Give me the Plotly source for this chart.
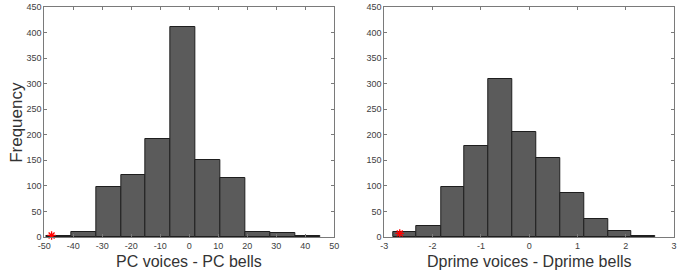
import plotly.graph_objects as go

# Left histogram: PC voices - PC bells
pc_edges = [-49.4, -40.8, -32.2, -23.6, -15.1, -6.6, 2.0, 10.6, 19.2, 28.0, 36.6, 45.2]
pc_counts = [2, 10, 97, 122, 191, 410, 151, 116, 10, 7, 2]
pc_star = [-47.5, 3]

# Right histogram: Dprime voices - Dprime bells
dp_edges = [-2.82, -2.33, -1.83, -1.34, -0.84, -0.35, 0.15, 0.64, 1.13, 1.63, 2.12, 2.62]
dp_counts = [9, 22, 97, 179, 310, 206, 155, 87, 35, 11, 2]
dp_star = [-2.68, 7]

pc_ticks = [-50, -40, -30, -20, -10, 0, 10, 20, 30, 40, 50]
dp_ticks = [-3, -2, -1, 0, 1, 2, 3]
y_ticks = [0, 50, 100, 150, 200, 250, 300, 350, 400, 450]

BAR = "#5b5b5b"
EDGE = "#1e1e1e"
AX = "#7a7a7a"
TXT = "#404040"
FONT = "Liberation Sans, Arial, sans-serif"

fig = go.Figure()

def add_hist(edges, counts, xa, ya):
    lefts = edges[:-1]
    widths = [b - a for a, b in zip(edges[:-1], edges[1:])]
    fig.add_trace(go.Bar(x=lefts, y=counts, width=widths, offset=0,
                         marker=dict(color=BAR, line=dict(color=EDGE, width=1)),
                         xaxis=xa, yaxis=ya, showlegend=False))

add_hist(pc_edges, pc_counts, "x", "y")
add_hist(dp_edges, dp_counts, "x2", "y2")

for star, xa, ya in [(pc_star, "x", "y"), (dp_star, "x2", "y2")]:
    fig.add_trace(go.Scatter(x=[star[0]], y=[star[1]], mode="markers",
                             marker=dict(symbol="asterisk-open", size=7, color="red",
                                         line=dict(color="red", width=1.3)),
                             xaxis=xa, yaxis=ya, showlegend=False, cliponaxis=False))

common_axis = dict(showline=True, linecolor=AX, linewidth=1, mirror="ticks",
                   ticks="inside", ticklen=3, tickcolor=AX, showgrid=False,
                   zeroline=False, tickfont=dict(size=9, color=TXT, family=FONT))

def labels(vals):
    return [str(v) for v in vals]

fig.update_layout(
    width=685, height=272,
    margin=dict(l=0, r=0, t=7, b=35),
    paper_bgcolor="white", plot_bgcolor="white",
    bargap=0,
    font=dict(family=FONT, color=TXT),
    xaxis=dict(domain=[38/685, 333/685], range=[-50, 50], tickvals=pc_ticks,
               ticktext=labels(pc_ticks), anchor="y", **common_axis),
    yaxis=dict(domain=[0, 1], range=[0, 450], tickvals=y_ticks,
               ticktext=labels(y_ticks), anchor="x", **common_axis),
    xaxis2=dict(domain=[384/685, 679/685], range=[-3, 3], tickvals=dp_ticks,
                ticktext=labels(dp_ticks), anchor="y2", **common_axis),
    yaxis2=dict(domain=[0, 1], range=[0, 450], tickvals=y_ticks,
                ticktext=labels(y_ticks), anchor="x2", **common_axis),
    annotations=[
        dict(text="PC voices - PC bells", xref="paper", yref="paper",
             x=(38 + 333) / 2 / 685, y=-14/230, xanchor="center", yanchor="top",
             showarrow=False, font=dict(size=16, color="#333333", family=FONT)),
        dict(text="Dprime voices - Dprime bells", xref="paper", yref="paper",
             x=(384 + 679) / 2 / 685, y=-14/230, xanchor="center", yanchor="top",
             showarrow=False, font=dict(size=16, color="#333333", family=FONT)),
        dict(text="Frequency", xref="paper", yref="paper", x=9/685, y=0.5,
             xanchor="center", yanchor="middle", textangle=-90,
             showarrow=False, font=dict(size=17, color="#333333", family=FONT)),
    ],
)

fig.write_html("out.html", config={"displayModeBar": False},
               post_script="document.body.style.margin='0';document.body.style.padding='0';")
